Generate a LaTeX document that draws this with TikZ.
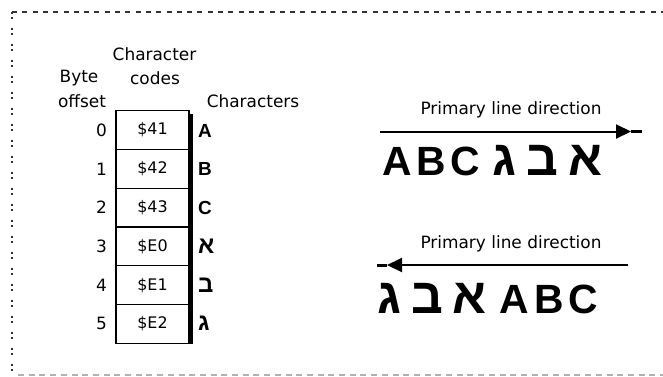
\documentclass[tikz,border=0pt]{standalone}
\usepackage{fontspec}
\setmainfont{DejaVu Sans}
\newfontfamily\lblfont{DejaVu Sans}
\newfontfamily\glyphfont{Liberation Sans}
\newfontfamily\glyphheb[Script=Hebrew]{Liberation Sans}
\newfontfamily\biglatin[LetterSpace=12]{Liberation Sans}
\newfontfamily\bigheb[Script=Hebrew,LetterSpace=20]{Liberation Sans}
\usetikzlibrary{arrows.meta}
\TeXXeTstate=1
\newcommand\hglyph[1]{{\glyphheb\bfseries\fontsize{24}{26}\selectfont #1}}
\newcommand\bigL[1]{{\biglatin\bfseries\fontsize{41}{44}\selectfont #1}}
\newcommand\bigH[1]{{\bigheb\bfseries\fontsize{50}{52}\selectfont\beginR #1\endR}}
\begin{document}
\begin{tikzpicture}[x=1bp,y=-1bp,
  lbl/.style={font=\lblfont\fontsize{17}{20}\selectfont, inner sep=0pt},
  cell/.style={draw, line width=1.3bp, minimum width=73bp, minimum height=38.77bp, inner sep=0pt,
    font=\lblfont\fontsize{16}{19}\selectfont},
  glyph/.style={font=\glyphfont\bfseries\fontsize{19}{22}\selectfont, inner sep=0pt, anchor=base west},
  big/.style={inner sep=0pt, anchor=base west},
  dirline/.style={line width=2bp},
  tip/.style={-{Triangle[length=15bp,width=14bp]}},
  topborder/.style={line width=2bp, dash pattern=on 5bp off 5.3bp, black!80},
  leftborder/.style={line width=2bp, dash pattern=on 2bp off 3bp on 2bp off 9bp, black!80},
  botborder/.style={line width=2bp, dash pattern=on 6bp off 4.7bp, black!30}]
\useasboundingbox (0,0) rectangle (663,376);
% border
\coordinate (bTL) at (12,12);
\coordinate (bTR) at (663,12);
\coordinate (bBL) at (12,375);
\coordinate (bBR) at (663,375);
\draw[topborder] (bTL) -- (bTR);
\draw[leftborder] (bTL) -- (bBL);
\draw[botborder] ([xshift=6bp]bBL) -- (bBR);
% headers
\node[lbl] (chr) at (154.5,54) {Character};
\node[lbl] (byte) at (79,78) {Byte};
\node[lbl] (codes) at (155,78) {codes};
\node[lbl] (offset) at (82,101) {offset};
\node[lbl] (chars) at (253,101) {Characters};
% table
\foreach \i/\code in {0/\$41,1/\$42,2/\$43,3/\$E0,4/\$E1,5/\$E2}{
  \node[cell] (c\i) at (152.5,{110.7+38.77*(\i+0.5)}) {\code};
  \node[lbl, anchor=east] (o\i) at (107,{110.7+38.77*(\i+0.5)}) {\i};
}
\draw[line width=3.5bp] ([xshift=1.5bp,yshift=-4bp]c0.north east) -- ([xshift=1.5bp]c5.south east);
% glyphs
\node[glyph] (g0) at (198,{110.7+38.77*0.5+7}) {A};
\node[glyph] (g1) at (198,{110.7+38.77*1.5+7}) {B};
\node[glyph] (g2) at (198,{110.7+38.77*2.5+7}) {C};
\node[glyph] (g3) at (198,{110.7+38.77*3.5+7}) {\hglyph{א}};
\node[glyph] (g4) at (198,{110.7+38.77*4.5+7}) {\hglyph{ב}};
\node[glyph] (g5) at (198,{110.7+38.77*5.5+7}) {\hglyph{ג}};
% right side, line 1
\node[lbl] (pld1) at (511,110) {Primary line direction};
\coordinate (a1s) at (380,131.5);
\coordinate (a1h) at (631,131.5);
\coordinate (a1e) at (642,131.5);
\draw[dirline,tip] (a1s) -- (a1h);
\draw[line width=3bp] (a1h) -- (a1e);
\node[big] (txt1) at (382,175) {\bigL{ABC}\hspace{12bp}\bigH{אבג}};
% right side, line 2
\node[lbl] (pld2) at (511,244) {Primary line direction};
\coordinate (a2s) at (628,265);
\coordinate (a2h) at (387,265);
\coordinate (a2e) at (377,265);
\draw[dirline,tip] (a2s) -- (a2h);
\draw[line width=3bp] (a2h) -- (a2e);
\node[big] (txt2) at (377,313) {\bigH{אבג}\hspace{13bp}\bigL{ABC}};
\end{tikzpicture}
\end{document}
